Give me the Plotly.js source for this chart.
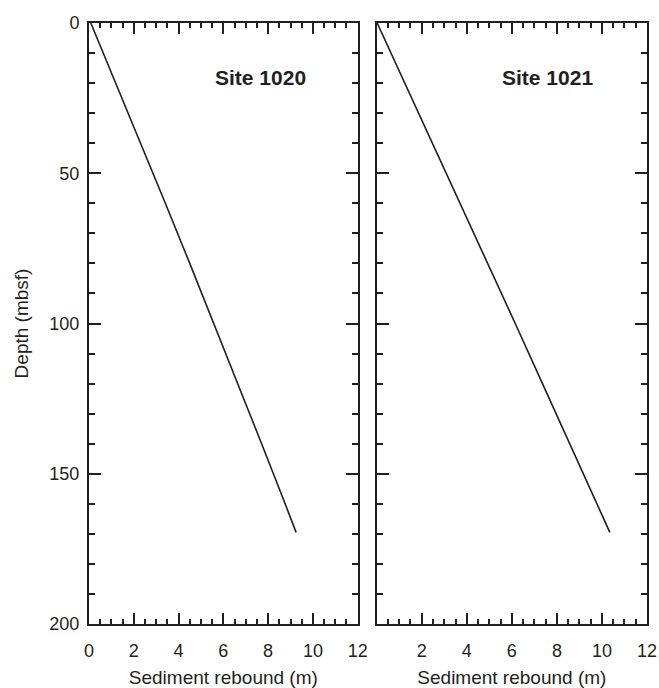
<!DOCTYPE html>
<html>
<head>
<meta charset="utf-8">
<script src="https://cdn.plot.ly/plotly-3.0.1.min.js"></script>
<style>html,body{margin:0;padding:0;background:#fff;}#chart{width:659px;height:688px;}</style>
</head>
<body>
<div id="chart"></div>
<script>
// Data
const depth1020 = [0, 20, 40, 60, 80, 100, 120, 140, 160, 169.5];
const rebound1020 = [0.08, 1.20, 2.31, 3.41, 4.50, 5.58, 6.65, 7.71, 8.76, 9.25];
const depth1021 = [0, 20, 40, 60, 80, 100, 120, 140, 160, 169.5];
const rebound1021 = [0.02, 1.25, 2.48, 3.72, 4.94, 6.15, 7.36, 8.57, 9.77, 10.35];
const siteLabels = ["Site 1020", "Site 1021"];
const xTickVals = [0, 2, 4, 6, 8, 10, 12];
const xTickText1 = ["0", "2", "4", "6", "8", "10", "12"];
const xTickText2 = ["", "2", "4", "6", "8", "10", "12"];
const yTickVals = [0, 50, 100, 150, 200];

const ink = "#231f20";
const fam = "Liberation Sans, Arial, sans-serif";
const tickFont = {family: fam, size: 18, color: ink};
const titleFont = {family: fam, size: 19, color: ink};

const traces = [
  {x: rebound1020, y: depth1020, xaxis: "x", yaxis: "y", mode: "lines",
   line: {color: ink, width: 1.6}, hoverinfo: "skip"},
  {x: rebound1021, y: depth1021, xaxis: "x2", yaxis: "y2", mode: "lines",
   line: {color: ink, width: 1.6}, hoverinfo: "skip"}
];

function xAxis(domain, ticktext, anchor) {
  return {
    domain: domain, anchor: anchor, range: [0, 12],
    tickmode: "array", tickvals: xTickVals, ticktext: ticktext,
    ticks: "inside", ticklen: 11, tickwidth: 2, tickcolor: ink,
    minor: {tickmode: "linear", tick0: 0, dtick: 0.5, ticks: "inside", ticklen: 5, tickwidth: 2, tickcolor: ink},
    showline: true, linewidth: 2, linecolor: ink, mirror: "ticks",
    showgrid: false, zeroline: false,
    tickfont: tickFont, ticklabelstandoff: 9,
    title: {text: "Sediment rebound (m)", font: titleFont, standoff: 12}
  };
}
function yAxis(showLabels, anchor) {
  const a = {
    domain: [0, 1], anchor: anchor, range: [200, 0],
    tickmode: "array", tickvals: yTickVals,
    ticks: "inside", ticklen: 12, tickwidth: 2, tickcolor: ink,
    minor: {tickmode: "linear", tick0: 0, dtick: 10, ticks: "inside", ticklen: 6, tickwidth: 2, tickcolor: ink},
    showline: true, linewidth: 2, linecolor: ink, mirror: "ticks",
    showgrid: false, zeroline: false,
    showticklabels: showLabels,
    tickfont: tickFont, ticklabelstandoff: 4
  };
  if (showLabels) a.title = {text: "Depth (mbsf)", font: titleFont, standoff: 16};
  return a;
}

const layout = {
  width: 659, height: 688,
  margin: {l: 89, r: 12, t: 23, b: 64},
  paper_bgcolor: "#fff", plot_bgcolor: "#fff",
  showlegend: false,
  xaxis: xAxis([0, 0.4815], xTickText1, "y"),
  xaxis2: xAxis([0.5156, 1], xTickText2, "y2"),
  yaxis: yAxis(true, "x"),
  yaxis2: yAxis(false, "x2"),
  annotations: [
    {text: "<b>" + siteLabels[0] + "</b>", xref: "x", yref: "y", x: 7.65, y: 18,
     showarrow: false, font: {family: fam, size: 21, color: ink}},
    {text: "<b>" + siteLabels[1] + "</b>", xref: "x2", yref: "y2", x: 7.6, y: 18,
     showarrow: false, font: {family: fam, size: 21, color: ink}}
  ]
};

Plotly.newPlot("chart", traces, layout, {staticPlot: true, displayModeBar: false});
</script>
</body>
</html>
